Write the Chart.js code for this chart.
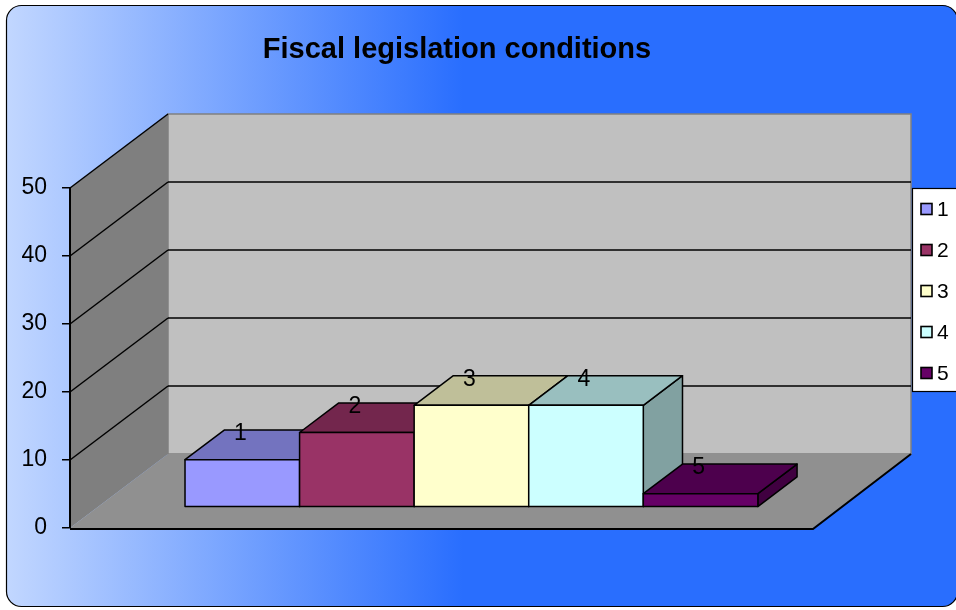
<!DOCTYPE html>
<html>
<head>
<meta charset="utf-8">
<title>Fiscal legislation conditions</title>
<script src="https://cdn.jsdelivr.net/npm/chart.js@4/dist/chart.umd.min.js"></script>
<style>
  html, body { margin: 0; padding: 0; background: #fff; }
  #chart { display: block; }
</style>
</head>
<body>
<canvas id="chart" width="956" height="610"></canvas>
<script>
// chart data
const TITLE = 'Fiscal legislation conditions';
const SERIES_NAMES = ['1', '2', '3', '4', '5'];
const SERIES_VALUES = [7, 11, 15, 15, 2];
const Y_TICKS = [0, 10, 20, 30, 40, 50];
const SERIES_COLORS = ['#9999ff', '#993366', '#ffffcc', '#ccffff', '#660066'];

const FONT = 'Arial, "Liberation Sans", sans-serif';

// fake 3D projection: how far the back wall sits from the front plane
const DEPTH = { dx: 98, dy: -74 };
const BAR_FRONT = 0.28;   // bar front face, as a fraction of depth
const BAR_DEPTH = 0.40;   // bar thickness, as a fraction of depth
const BAR_NUDGE = 2.5;    // group sits a little right of the floor centre

function shade(hex, k) {
    const n = parseInt(hex.slice(1), 16);
    const r = Math.round(((n >> 16) & 255) * k);
    const g = Math.round(((n >> 8) & 255) * k);
    const b = Math.round((n & 255) * k);
    return `rgb(${r},${g},${b})`;
}

function poly(ctx, pts, fill, stroke, lw) {
    ctx.beginPath();
    ctx.moveTo(pts[0][0], pts[0][1]);
    for (let i = 1; i < pts.length; i++) ctx.lineTo(pts[i][0], pts[i][1]);
    ctx.closePath();
    if (fill) { ctx.fillStyle = fill; ctx.fill(); }
    if (stroke) { ctx.strokeStyle = stroke; ctx.lineWidth = lw || 1; ctx.stroke(); }
}

function line(ctx, x1, y1, x2, y2, color, lw) {
    ctx.beginPath();
    ctx.moveTo(x1, y1);
    ctx.lineTo(x2, y2);
    ctx.strokeStyle = color;
    ctx.lineWidth = lw;
    ctx.stroke();
}

const box3d = {
    id: 'box3d',

    // frame, title, walls and floor go under the axis
    beforeDraw(chart) {
        const ctx = chart.ctx;
        const { left, right, top, bottom } = chart.chartArea;
        const yScale = chart.scales.y;
        const { dx, dy } = DEPTH;

        ctx.save();

        // rounded panel with horizontal gradient
        const grad = ctx.createLinearGradient(6, 0, 463, 0);
        grad.addColorStop(0, '#c2d7ff');
        grad.addColorStop(1, '#296efe');
        ctx.beginPath();
        ctx.roundRect(6.5, 5.5, 951, 601, 15);
        ctx.fillStyle = grad;
        ctx.fill();
        ctx.strokeStyle = '#000';
        ctx.lineWidth = 1.2;
        ctx.stroke();

        // title
        ctx.fillStyle = '#000';
        ctx.font = `bold 29px ${FONT}`;
        ctx.textAlign = 'center';
        ctx.textBaseline = 'alphabetic';
        ctx.fillText(TITLE, 457, 58);

        // back wall
        poly(ctx, [[left + dx, top + dy], [right + dx, top + dy],
                   [right + dx, bottom + dy], [left + dx, bottom + dy]], '#c0c0c0', '#808080', 1.5);
        // left side wall
        poly(ctx, [[left, top], [left + dx, top + dy],
                   [left + dx, bottom + dy], [left, bottom]], '#7f7f7f');
        // floor
        poly(ctx, [[left, bottom], [right, bottom],
                   [right + dx, bottom + dy], [left + dx, bottom + dy]], '#909090');

        // gridlines on back wall and side wall
        Y_TICKS.forEach(v => {
            if (v === Y_TICKS[0]) return;
            const y = yScale.getPixelForValue(v);
            if (v !== Y_TICKS[Y_TICKS.length - 1]) {
                line(ctx, left + dx, y + dy, right + dx, y + dy, '#000', 1.5);
            }
            line(ctx, left, y, left + dx, y + dy, '#000', 1.5);
        });

        // front and right edge of the floor
        ctx.beginPath();
        ctx.moveTo(left, bottom + 1);
        ctx.lineTo(right, bottom + 1);
        ctx.lineTo(right + dx, bottom + dy);
        ctx.strokeStyle = '#000';
        ctx.lineWidth = 2;
        ctx.lineJoin = 'miter';
        ctx.stroke();

        ctx.restore();
    },

    // boxes are drawn left to right so nearer faces cover the previous one
    beforeDatasetsDraw(chart) {
        const ctx = chart.ctx;
        const ox = DEPTH.dx * BAR_FRONT + BAR_NUDGE, oy = DEPTH.dy * BAR_FRONT;
        const bx = DEPTH.dx * BAR_DEPTH, by = DEPTH.dy * BAR_DEPTH;

        ctx.save();
        ctx.lineJoin = 'round';
        chart.data.datasets.forEach((ds, i) => {
            const el = chart.getDatasetMeta(i).data[0];
            if (!el) return;
            const color = ds.backgroundColor;
            const L = el.x - el.width / 2 + ox;
            const R = el.x + el.width / 2 + ox;
            const T = el.y + oy;
            const B = el.base + oy;

            poly(ctx, [[R, T], [R + bx, T + by], [R + bx, B + by], [R, B]], shade(color, 0.63), '#000', 1.5);
            poly(ctx, [[L, T], [L + bx, T + by], [R + bx, T + by], [R, T]], shade(color, 0.75), '#000', 1.5);
            poly(ctx, [[L, T], [R, T], [R, B], [L, B]], color, '#000', 1.5);
        });

        // series name above each box
        ctx.fillStyle = '#000';
        ctx.font = `23px ${FONT}`;
        ctx.textAlign = 'center';
        ctx.textBaseline = 'middle';
        chart.data.datasets.forEach((ds, i) => {
            const el = chart.getDatasetMeta(i).data[0];
            if (!el) return;
            ctx.fillText(ds.label, el.x + ox - 2, el.y + oy - 26);
        });
        ctx.restore();
        return false;
    },

    // boxed legend on the right edge
    afterDraw(chart) {
        const ctx = chart.ctx;
        ctx.save();
        ctx.fillStyle = '#fff';
        ctx.fillRect(912, 188, 50, 203);
        ctx.strokeStyle = '#000';
        ctx.lineWidth = 1.2;
        ctx.strokeRect(912.5, 188.5, 50, 203);

        ctx.font = `21px ${FONT}`;
        ctx.textAlign = 'left';
        ctx.textBaseline = 'middle';
        chart.data.datasets.forEach((ds, i) => {
            const cy = 209 + i * 41;
            ctx.fillStyle = ds.backgroundColor;
            ctx.fillRect(921, cy - 5.5, 11, 11);
            ctx.strokeStyle = '#000';
            ctx.lineWidth = 1.6;
            ctx.strokeRect(921, cy - 5.5, 11, 11);
            ctx.fillStyle = '#000';
            ctx.fillText(ds.label, 937, cy + 1);
        });
        ctx.restore();
    }
};

const datasets = SERIES_NAMES.map((name, i) => ({
    label: name,
    data: [SERIES_VALUES[i]],
    backgroundColor: SERIES_COLORS[i],
    borderColor: '#000',
    borderWidth: 1.5,
    categoryPercentage: 0.771,
    barPercentage: 1.0
}));

new Chart(document.getElementById('chart'), {
    type: 'bar',
    data: { labels: [''], datasets: datasets },
    options: {
        responsive: false,
        animation: false,
        layout: { padding: { left: 10, right: 143, top: 188, bottom: 82 } },
        plugins: {
            legend: { display: false },
            title: { display: false },
            tooltip: { enabled: false }
        },
        scales: {
            x: { display: false },
            y: {
                min: Y_TICKS[0],
                max: Y_TICKS[Y_TICKS.length - 1],
                ticks: {
                    stepSize: Y_TICKS[1] - Y_TICKS[0],
                    color: '#000',
                    font: { family: FONT, size: 23 },
                    padding: 15
                },
                grid: {
                    drawOnChartArea: false,
                    drawTicks: true,
                    tickLength: 8,
                    color: '#000',
                    lineWidth: 1.5
                },
                border: { display: true, color: '#000', width: 2 },
                afterFit(scale) { scale.width = 60; }
            }
        }
    },
    plugins: [box3d]
});
</script>
</body>
</html>
